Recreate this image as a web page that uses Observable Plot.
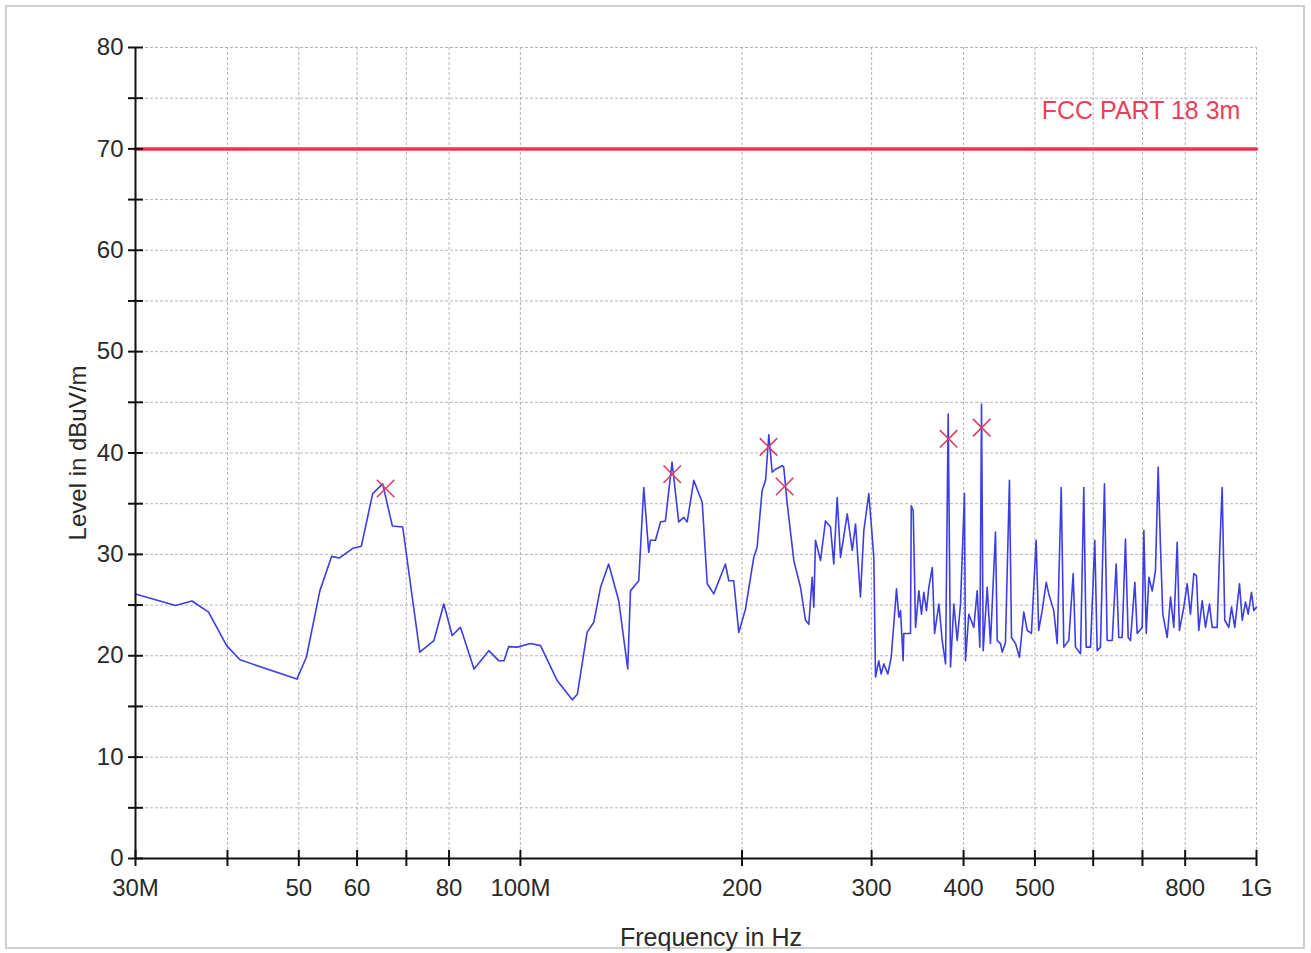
<!DOCTYPE html>
<html><head><meta charset="utf-8">
<script src="https://cdn.jsdelivr.net/npm/d3@7"></script>
<script src="https://cdn.jsdelivr.net/npm/@observablehq/plot@0.6"></script>
<style>
body{margin:0;background:#fff;}
#wrap{position:relative;width:1311px;height:953px;overflow:hidden;}
#border{position:absolute;left:5px;top:5px;width:1300px;height:944px;border:2px solid #cfcfcf;box-sizing:border-box;pointer-events:none;}
#wrap svg{position:absolute;left:0;top:0;}
</style></head><body><div id="wrap"><div id="border"></div></div>
<script>
// Measured trace (frequency in MHz, level in dBuV/m)
const freqMHz = [30,34.0,35.8,37.7,39.9,41.6,49.7,51.2,53.4,55.4,56.8,59.2,60.8,63.0,65.0,67.0,69.2,73.0,76.3,78.7,80.8,82.9,86.5,90.6,93.5,95.0,96.4,99.0,103.2,106.5,112.2,117.6,119.5,123.2,125.8,128.5,131.8,136.0,139.9,141.1,144.8,147.1,149.4,150.2,152.6,155.0,157.4,160.7,164.1,166.7,168.5,172.0,176.6,179.4,183.1,189.9,191.9,194.9,198.0,202.2,207.5,209.7,213.0,215.3,217.5,219.8,222.2,226.8,227.9,230.4,235.2,240.2,244.0,246.5,249.1,250.4,251.7,255.7,259.7,263.8,266.5,269.4,272.2,278.0,282.4,285.3,289.7,292.8,297.4,302.1,303.7,306.8,309.1,311.7,315.6,319.0,324.3,326.7,328.4,331.1,331.8,338.8,339.6,341.7,344.2,347.8,350.7,353.2,356.2,358.8,362.7,365.3,370.3,374.1,378.1,381.2,384.0,388.0,392.1,396.2,401.1,402.4,406.6,413.0,417.4,420.9,423.1,425.3,430.7,435.1,442.0,444.4,449.0,451.4,456.0,461.7,464.7,470.6,476.4,482.9,488.1,494.6,501.9,506.0,511.5,518.0,522.2,530.4,536.1,542.9,547.3,555.9,563.6,567.7,576.7,582.6,587.0,595.0,603.0,607.5,613.8,621.5,626.8,636.8,644.7,650.0,656.9,663.7,669.4,674.3,683.5,688.5,699.4,703.0,708.3,714.1,721.6,729.1,735.2,740.6,745.9,756.3,764.2,772.1,780.3,785.7,796.6,805.0,813.4,821.9,828.8,834.8,843.8,852.5,863.2,870.5,884.2,890.5,898.1,905.5,917.0,924.8,934.3,948.2,956.3,966.2,974.3,984.5,991.6,1000];
const levelDb = [26.1,24.95,25.4,24.3,21.0,19.6,17.7,19.85,26.4,29.8,29.65,30.6,30.8,36.0,36.95,32.8,32.7,20.35,21.5,25.1,22.0,22.8,18.7,20.5,19.5,19.5,20.9,20.85,21.2,21.0,17.55,15.65,16.2,22.3,23.3,26.75,29.05,25.45,18.7,26.4,27.4,36.6,30.2,31.4,31.4,33.2,33.3,39.1,33.2,33.65,33.2,37.3,35.15,27.1,26.1,29.05,27.4,27.4,22.3,24.6,29.7,30.7,36.3,37.3,41.8,38.1,38.4,38.75,38.6,35.0,29.4,26.75,23.5,23.1,27.75,24.8,31.4,29.4,33.3,32.7,29.05,35.6,29.7,34.0,30.4,33.0,25.8,32.35,36.0,29.7,17.9,19.5,18.2,19.2,18.2,19.85,26.6,23.8,24.45,19.5,22.2,22.2,34.8,34.3,22.8,26.4,24.1,26.25,24.45,26.75,28.7,22.2,25.1,21.5,19.2,43.85,18.9,25.1,21.5,25.1,36.0,19.5,24.1,22.8,26.4,20.85,44.8,20.5,26.75,21.2,32.2,21.5,21.2,20.35,21.3,37.3,21.8,21.2,19.85,24.3,22.5,22.2,31.4,22.5,24.45,27.25,26.1,24.45,21.2,36.6,20.85,21.5,28.1,20.85,20.2,36.6,20.85,20.85,31.4,20.5,20.85,36.95,21.5,21.5,29.05,21.8,21.8,31.5,21.8,21.5,27.25,22.2,22.8,32.35,22.2,27.75,26.4,28.4,38.6,30.7,24.1,21.8,25.8,22.8,31.2,22.5,24.8,27.1,24.1,28.1,27.9,22.5,25.45,22.8,25.1,22.8,22.8,29.7,36.6,23.5,22.8,24.8,22.8,27.1,23.5,25.3,24.1,26.25,24.45,24.8];

// Final peak markers
const peakFreq = [65.6,160.8,217.3,228.5,381.7,423.3];
const peakLevel = [36.5,37.9,40.6,36.7,41.4,42.5];

// Limit line
const limitFreq = [30,1000];
const limitLevel = [70,70];
const limitName = "FCC PART 18 3m";

// Axes
const xTicks = [30,40,50,60,70,80,100,200,300,400,500,600,700,800,1000];
const xTickLabels = ["30M","","50","60","","80","100M","200","300","400","500","","","800","1G"];
const xGrid = [40,50,60,70,80,100,200,300,400,500,600,700,800,1000];
const yTicks = [0,5,10,15,20,25,30,35,40,45,50,55,60,65,70,75,80];
const xTitle = "Frequency in Hz";
const yTitle = "Level in dBuV/m";

const trace = freqMHz.map((f, i) => ({f, v: levelDb[i]}));
const peaks = peakFreq.map((f, i) => ({f, v: peakLevel[i]}));
const limit = limitFreq.map((f, i) => ({f, v: limitLevel[i]}));
const xLab = new Map(xTicks.map((t, i) => [t, xTickLabels[i]]));

const chart = Plot.plot({
  width: 1311,
  height: 953,
  marginLeft: 135,
  marginRight: 55,
  marginTop: 47,
  marginBottom: 95,
  style: {fontFamily: "'Liberation Sans', Arial, sans-serif", fontSize: "24px", color: "#2a2a2a", background: "transparent"},
  x: {type: "log", domain: [30, 1000]},
  y: {domain: [0, 80]},
  marks: [
    Plot.gridX(xGrid, {stroke: "#b5b5b5", strokeOpacity: 1, strokeDasharray: "3,2"}),
    Plot.gridY(yTicks.filter(d => d > 0), {stroke: "#b5b5b5", strokeOpacity: 1, strokeDasharray: "3,2"}),
    Plot.line(limit, {x: "f", y: "v", stroke: "#e8384f", strokeWidth: 3.5}),
    Plot.line(trace, {x: "f", y: "v", stroke: "#3d3de6", strokeWidth: 1.6}),
    Plot.dot(peaks, {x: "f", y: "v", symbol: "times", r: 8, stroke: "#d9405e", strokeWidth: 1.6}),
    Plot.text([limitName], {x: 951, y: 73.7, text: d => d, textAnchor: "end", fill: "#e8405a", fontSize: 25}),
    Plot.ruleX([30], {stroke: "#111", strokeWidth: 2}),
    Plot.ruleY([0], {stroke: "#111", strokeWidth: 2}),
    Plot.axisX(xTicks, {tickSize: 8, tickPadding: 12, strokeWidth: 2, stroke: "#111", tickFormat: d => xLab.get(d) ?? "",
      label: null, fontSize: 24}),
    Plot.axisX(xTicks, {tickSize: -8, strokeWidth: 2, stroke: "#111", tickFormat: () => "", label: null}),
    Plot.text([xTitle], {frameAnchor: "bottom", dy: 87, dx: 15, text: d => d, fontSize: 25, fill: "#2a2a2a"}),
    Plot.axisY(yTicks, {tickSize: 7, tickPadding: 5, strokeWidth: 2, stroke: "#111", tickFormat: d => d % 10 === 0 ? String(d) : "",
      label: yTitle, labelAnchor: "center", labelArrow: false, labelOffset: 67, fontSize: 24}),
    Plot.axisY(yTicks, {tickSize: -8, strokeWidth: 2, stroke: "#111", tickFormat: () => "", label: null})
  ]
});
document.getElementById("wrap").appendChild(chart);
</script>
</body></html>
